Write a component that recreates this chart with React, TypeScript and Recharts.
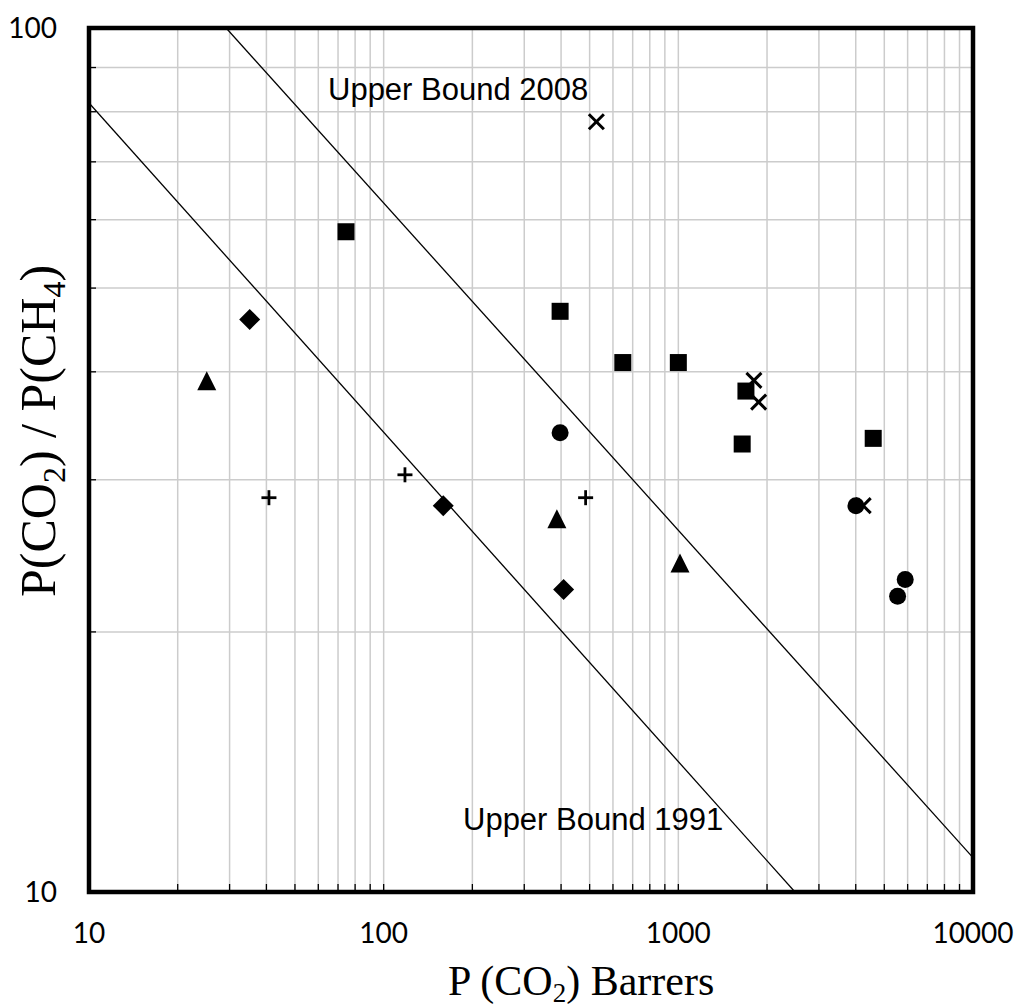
import React from 'react';
import {
  ScatterChart, Scatter, XAxis, YAxis, CartesianGrid, ReferenceArea,
} from 'recharts';

// permeability P(CO2) in Barrers and selectivity P(CO2)/P(CH4)
const squareP = [74.5, 397, 648, 1000, 1696, 1647, 4585];
const squareA = [58.1, 47.0, 41.0, 41.0, 38.0, 33.0, 33.5];
const diamondP = [35.1, 159.3, 408];
const diamondA = [46.0, 28.0, 22.4];
const triangleP = [25.1, 387, 1013];
const triangleA = [39.0, 27.0, 24.0];
const circleP = [397, 4006, 5888, 5547];
const circleA = [34.0, 28.0, 23.0, 22.0];
const crossP = [527, 1805, 1873, 4240];
const crossA = [77.9, 39.1, 36.9, 28.0];
const plusP = [40.8, 118.1, 484.6];
const plusA = [28.6, 30.4, 28.6];

// Robeson upper bounds (end points where they meet the frame)
const bound1991P = [10, 2488];
const bound1991A = [81.9, 10];
const bound2008P = [29.2, 10000];
const bound2008A = [100, 10.96];

const xTicks = [10, 20, 30, 40, 50, 60, 70, 80, 90, 100, 200, 300, 400, 500, 600, 700, 800, 900,
  1000, 2000, 3000, 4000, 5000, 6000, 7000, 8000, 9000, 10000];
const xMajor = [10, 100, 1000, 10000];
const yTicks = [10, 20, 30, 40, 50, 60, 70, 80, 90, 100];
const yMajor = [10, 100];

const zip = (p: number[], a: number[]) => p.map((x, i) => ({ p: x, a: a[i] }));

const tickFont = 'Lato, "Liberation Sans", sans-serif';

// x/y of a tick = position on the axis line (tickSize and tickMargin are 0)
const renderXTick = (props: any) => {
  const { x, y, payload } = props;
  const v = payload.value;
  return (
    <g key={`xt-${v}`}>
      <line x1={x} x2={x} y1={y} y2={y - 8} stroke="#000" strokeWidth={1.3} />
      {xMajor.includes(v) && (
        <text x={x} y={y + 51} textAnchor="middle" fontSize={28} fontFamily={tickFont} fill="#000">{v}</text>
      )}
    </g>
  );
};

const renderYTick = (props: any) => {
  const { x, y, payload } = props;
  const v = payload.value;
  return (
    <g key={`yt-${v}`}>
      <line x1={x} x2={x + 7} y1={y} y2={y} stroke="#000" strokeWidth={1.3} />
      {yMajor.includes(v) && (
        <text x={x - 32} y={y + 10} textAnchor="end" fontSize={28} fontFamily={tickFont} fill="#000">{v}</text>
      )}
    </g>
  );
};

const Square = ({ cx, cy }: any) => <rect x={cx - 8.5} y={cy - 8.5} width={17} height={17} fill="#000" />;
const Diamond = ({ cx, cy }: any) => (
  <polygon points={`${cx},${cy - 10.5} ${cx + 10.5},${cy} ${cx},${cy + 10.5} ${cx - 10.5},${cy}`} fill="#000" />
);
const Triangle = ({ cx, cy }: any) => (
  <polygon points={`${cx},${cy - 10} ${cx + 9.5},${cy + 9} ${cx - 9.5},${cy + 9}`} fill="#000" />
);
const Dot = ({ cx, cy }: any) => <circle cx={cx} cy={cy} r={8.5} fill="#000" />;
const Cross = ({ cx, cy }: any) => (
  <g stroke="#000" strokeWidth={3}>
    <line x1={cx - 7.5} y1={cy - 7.5} x2={cx + 7.5} y2={cy + 7.5} />
    <line x1={cx - 7.5} y1={cy + 7.5} x2={cx + 7.5} y2={cy - 7.5} />
  </g>
);
const Plus = ({ cx, cy }: any) => (
  <g stroke="#000" strokeWidth={2.8}>
    <line x1={cx - 7.5} y1={cy} x2={cx + 7.5} y2={cy} />
    <line x1={cx} y1={cy - 7.5} x2={cx} y2={cy + 7.5} />
  </g>
);
const NoDot = () => <g />;

export default function App() {
  const serif = '"Liberation Serif", "Times New Roman", serif';
  const sans = '"Liberation Sans", Arial, sans-serif';

  return (
    <div style={{ position: 'absolute', left: 0, top: 0, width: 1018, height: 1007, background: '#fff', overflow: 'visible' }}>
      <ScatterChart width={1018} height={1007} margin={{ top: 28, right: 45, bottom: 55, left: 29 }} style={{ overflow: 'visible' }}>
        <CartesianGrid stroke="#cccccc" strokeWidth={1.5} />
        <XAxis
          dataKey="p"
          type="number"
          scale="log"
          domain={[10, 10000]}
          ticks={xTicks}
          allowDataOverflow
          height={60}
          axisLine={false}
          tickLine={false}
          tickSize={0}
          tickMargin={0}
          interval={0}
          tick={renderXTick}
        />
        <YAxis
          dataKey="a"
          type="number"
          scale="log"
          domain={[10, 100]}
          ticks={yTicks}
          allowDataOverflow
          width={60}
          axisLine={false}
          tickLine={false}
          tickSize={0}
          tickMargin={0}
          interval={0}
          tick={renderYTick}
        />
        <Scatter data={zip(bound1991P, bound1991A)} line={{ stroke: '#000', strokeWidth: 1.3 }} shape={<NoDot />} isAnimationActive={false} />
        <Scatter data={zip(bound2008P, bound2008A)} line={{ stroke: '#000', strokeWidth: 1.3 }} shape={<NoDot />} isAnimationActive={false} />
        <Scatter data={zip(squareP, squareA)} shape={<Square />} isAnimationActive={false} />
        <Scatter data={zip(crossP, crossA)} shape={<Cross />} isAnimationActive={false} />
        <Scatter data={zip(circleP, circleA)} shape={<Dot />} isAnimationActive={false} />
        <Scatter data={zip(diamondP, diamondA)} shape={<Diamond />} isAnimationActive={false} />
        <Scatter data={zip(triangleP, triangleA)} shape={<Triangle />} isAnimationActive={false} />
        <Scatter data={zip(plusP, plusA)} shape={<Plus />} isAnimationActive={false} />
        <ReferenceArea x1={10} x2={10000} y1={10} y2={100} fill="none" fillOpacity={0} stroke="#000" strokeWidth={4.5} ifOverflow="visible" />
      </ScatterChart>

      <svg width={1018} height={1007} style={{ position: 'absolute', left: 0, top: 0, pointerEvents: 'none' }}>
        <text x={328} y={100} fontSize={31} fontFamily={sans} fill="#000">Upper Bound 2008</text>
        <text x={463} y={830} fontSize={31} fontFamily={sans} fill="#000">Upper Bound 1991</text>
        <text x={448} y={995} fontSize={42} fontFamily={serif} fill="#000">
          P (CO<tspan fontSize={27} dy={7}>2</tspan><tspan dy={-7}>) Barrers</tspan>
        </text>
        <text x={55} y={597} fontSize={50} fontFamily={serif} fill="#000" transform="rotate(-90 55 597)">
          P(CO<tspan fontSize={32} dy={10}>2</tspan><tspan dy={-10}>) / P(CH</tspan><tspan fontSize={32} dy={10}>4</tspan><tspan dy={-10}>)</tspan>
        </text>
      </svg>
    </div>
  );
}
